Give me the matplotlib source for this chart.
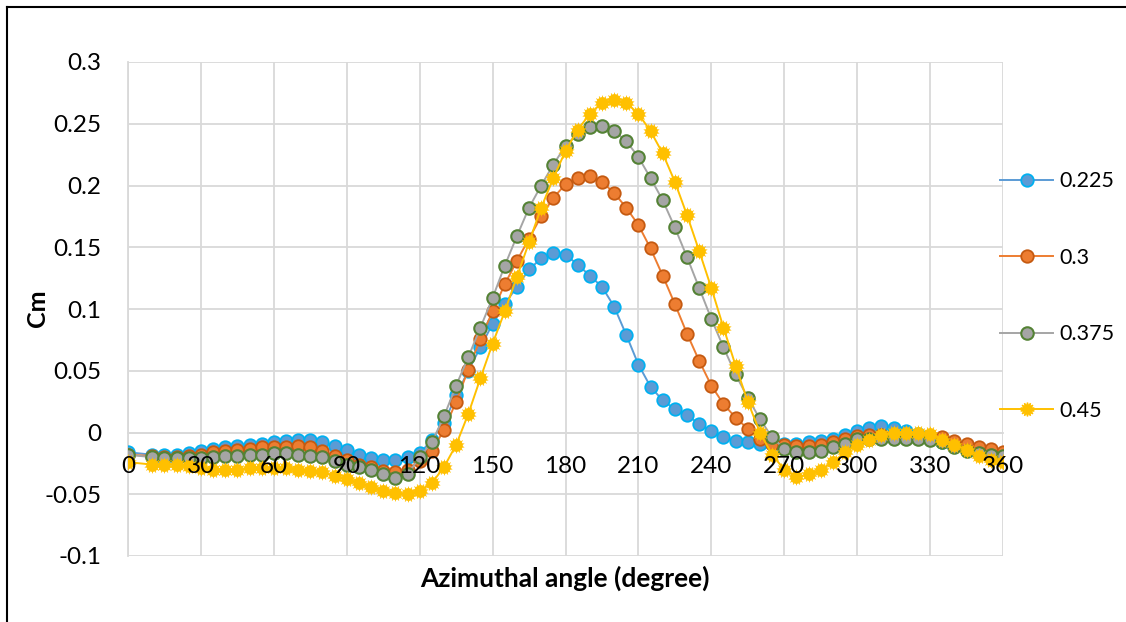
import matplotlib
matplotlib.use("Agg")
import matplotlib.pyplot as plt
from matplotlib.lines import Line2D
import numpy as np

plt.rcParams['font.family'] = ['Lato', 'DejaVu Sans']

angles = [0] + list(range(10, 365, 5))

cm_0225 = [-0.016, -0.018, -0.018, -0.018, -0.017, -0.015, -0.013, -0.012, -0.011, -0.010,
           -0.009, -0.008, -0.007, -0.006, -0.006, -0.008, -0.011, -0.014, -0.018, -0.021,
           -0.022, -0.022, -0.020, -0.017, -0.006, 0.008, 0.030, 0.050, 0.069, 0.088,
           0.104, 0.118, 0.132, 0.141, 0.145, 0.144, 0.136, 0.127, 0.118, 0.102,
           0.079, 0.055, 0.037, 0.026, 0.019, 0.014, 0.007, 0.001, -0.004, -0.007,
           -0.008, -0.009, -0.009, -0.009, -0.009, -0.008, -0.007, -0.005, -0.002, 0.001,
           0.004, 0.005, 0.004, 0.001, -0.001, -0.005, -0.008, -0.011, -0.013, -0.016,
           -0.018, -0.017]

cm_03 = [-0.018, -0.019, -0.020, -0.020, -0.019, -0.018, -0.016, -0.015, -0.014, -0.013,
         -0.012, -0.012, -0.012, -0.011, -0.012, -0.015, -0.019, -0.022, -0.026, -0.028,
         -0.031, -0.032, -0.030, -0.023, -0.015, 0.002, 0.025, 0.051, 0.076, 0.098,
         0.120, 0.139, 0.157, 0.175, 0.190, 0.201, 0.206, 0.208, 0.203, 0.194,
         0.182, 0.168, 0.149, 0.127, 0.104, 0.080, 0.058, 0.038, 0.023, 0.012,
         0.003, -0.005, -0.009, -0.010, -0.011, -0.011, -0.010, -0.008, -0.005, -0.003,
         -0.002, -0.002, -0.002, -0.003, -0.003, -0.003, -0.004, -0.007, -0.009, -0.012,
         -0.013, -0.016]

cm_0375 = [-0.018, -0.020, -0.021, -0.021, -0.021, -0.021, -0.020, -0.019, -0.019, -0.018,
           -0.018, -0.017, -0.017, -0.018, -0.019, -0.020, -0.023, -0.026, -0.028, -0.030,
           -0.034, -0.037, -0.034, -0.020, -0.008, 0.013, 0.038, 0.061, 0.085, 0.109,
           0.135, 0.159, 0.182, 0.200, 0.217, 0.232, 0.242, 0.247, 0.248, 0.244,
           0.236, 0.223, 0.206, 0.188, 0.166, 0.142, 0.117, 0.092, 0.069, 0.047,
           0.028, 0.011, -0.004, -0.013, -0.016, -0.016, -0.015, -0.012, -0.009, -0.005,
           -0.005, -0.005, -0.005, -0.005, -0.005, -0.006, -0.008, -0.012, -0.015, -0.017,
           -0.018, -0.019]

cm_045 = [-0.024, -0.026, -0.026, -0.026, -0.027, -0.029, -0.030, -0.030, -0.030, -0.029,
          -0.029, -0.029, -0.029, -0.030, -0.031, -0.032, -0.035, -0.038, -0.041, -0.044,
          -0.047, -0.049, -0.050, -0.047, -0.041, -0.028, -0.010, 0.015, 0.044, 0.072,
          0.098, 0.126, 0.154, 0.182, 0.206, 0.228, 0.245, 0.258, 0.267, 0.269,
          0.267, 0.258, 0.244, 0.226, 0.203, 0.176, 0.147, 0.117, 0.085, 0.054,
          0.025, 0.000, -0.018, -0.030, -0.036, -0.034, -0.030, -0.024, -0.016, -0.010,
          -0.006, -0.002, 0.000, 0.000, 0.000, -0.001, -0.006, -0.010, -0.014, -0.019,
          -0.022, -0.024]

labels = ["0.225", "0.3", "0.375", "0.45"]
xticks = list(range(0, 361, 30))
yticks = [-0.1, -0.05, 0, 0.05, 0.1, 0.15, 0.2, 0.25, 0.3]
ytick_labels = ["-0.1", "-0.05", "0", "0.05", "0.1", "0.15", "0.2", "0.25", "0.3"]

W, H = 1126, 622
fig = plt.figure(figsize=(W / 100, H / 100), dpi=100)
ax = fig.add_axes([128 / W, 1 - 556 / H, (1003 - 128) / W, (556 - 62) / H])

grid_c = "#D9D9D9"
lw = 1.4
ms = 9

# manual gridlines (below data)
for xv in xticks:
    ax.axvline(xv, color=grid_c, lw=1.3, zorder=0.5)
for yv in yticks:
    ax.axhline(yv, color=grid_c, lw=1.3, zorder=0.5)

# 0.225
ax.plot(angles, cm_0225, color="#5B9BD5", lw=lw, marker="o", ms=ms,
        mfc="#5B9BD5", mec="#00B0F0", mew=1.3, zorder=3)
# 0.3
ax.plot(angles, cm_03, color="#ED7D31", lw=lw, marker="o", ms=ms,
        mfc="#ED7D31", mec="#C55A11", mew=1.3, zorder=4)
# 0.375
ax.plot(angles, cm_0375, color="#A5A5A5", lw=lw, marker="o", ms=ms,
        mfc="#A5A5A5", mec="#548235", mew=1.5, zorder=5)
# 0.45 : gear-like marker (star + circle)
ax.plot(angles, cm_045, color="#FFC000", lw=lw, zorder=6)
ax.plot(angles, cm_045, ls="none", marker=(14, 1, 0), ms=ms + 2.5,
        mfc="#FFC000", mec="#FFC000", mew=0.3, zorder=6)
ax.plot(angles, cm_045, ls="none", marker="o", ms=ms - 0.5,
        mfc="#FFC000", mec="#FFC000", mew=0.5, zorder=6)

ax.set_xlim(0, 360)
ax.set_ylim(-0.1, 0.3)
ax.set_xticks(xticks)
ax.set_xticklabels([str(v) for v in xticks])
ax.set_yticks(yticks)
ax.set_yticklabels(ytick_labels)
ax.grid(False)
ax.xaxis.set_zorder(10)
ax.yaxis.set_zorder(10)
for s in ["top", "right"]:
    ax.spines[s].set_visible(False)
ax.spines["left"].set_color(grid_c)
ax.spines["left"].set_linewidth(1.3)
ax.spines["left"].set_zorder(0.6)
ax.spines["bottom"].set_position(("data", 0))
ax.spines["bottom"].set_color(grid_c)
ax.spines["bottom"].set_linewidth(1.3)
ax.spines["bottom"].set_zorder(0.6)
ax.tick_params(axis="both", length=0, labelsize=17.5, colors="black")
ax.tick_params(axis="x", pad=17)
ax.tick_params(axis="y", pad=19)

fig.text(37 / W, 1 - 308 / H, "Cm", rotation=90, ha="center", va="center",
         fontsize=18, fontweight="bold")
fig.text(565 / W, 1 - 578 / H, "Azimuthal angle (degree)", ha="center", va="center",
         fontsize=19, fontweight="bold")

# legend
handles = [
    Line2D([], [], color="#5B9BD5", lw=lw, marker="o", ms=ms, mfc="#5B9BD5", mec="#00B0F0", mew=1.3),
    Line2D([], [], color="#ED7D31", lw=lw, marker="o", ms=ms, mfc="#ED7D31", mec="#C55A11", mew=1.3),
    Line2D([], [], color="#A5A5A5", lw=lw, marker="o", ms=ms, mfc="#A5A5A5", mec="#548235", mew=1.5),
    Line2D([], [], color="#FFC000", lw=lw, marker=(14, 1, 0), ms=ms + 1, mfc="#FFC000", mec="#FFC000"),
]
leg = fig.legend(handles, labels, loc="center left",
                 bbox_to_anchor=(981 / W, 1 - 296 / H), frameon=False,
                 fontsize=15.5, labelspacing=2.62, handlelength=2.45, handletextpad=0.3)

# outer frame (left & top)
fig.add_artist(Line2D([7 / W, 7 / W], [0, 1 - 7 / H], color="black", lw=1.5))
fig.add_artist(Line2D([7 / W, 1], [1 - 7 / H, 1 - 7 / H], color="black", lw=1.5))

fig.savefig("out.png", dpi=100)
